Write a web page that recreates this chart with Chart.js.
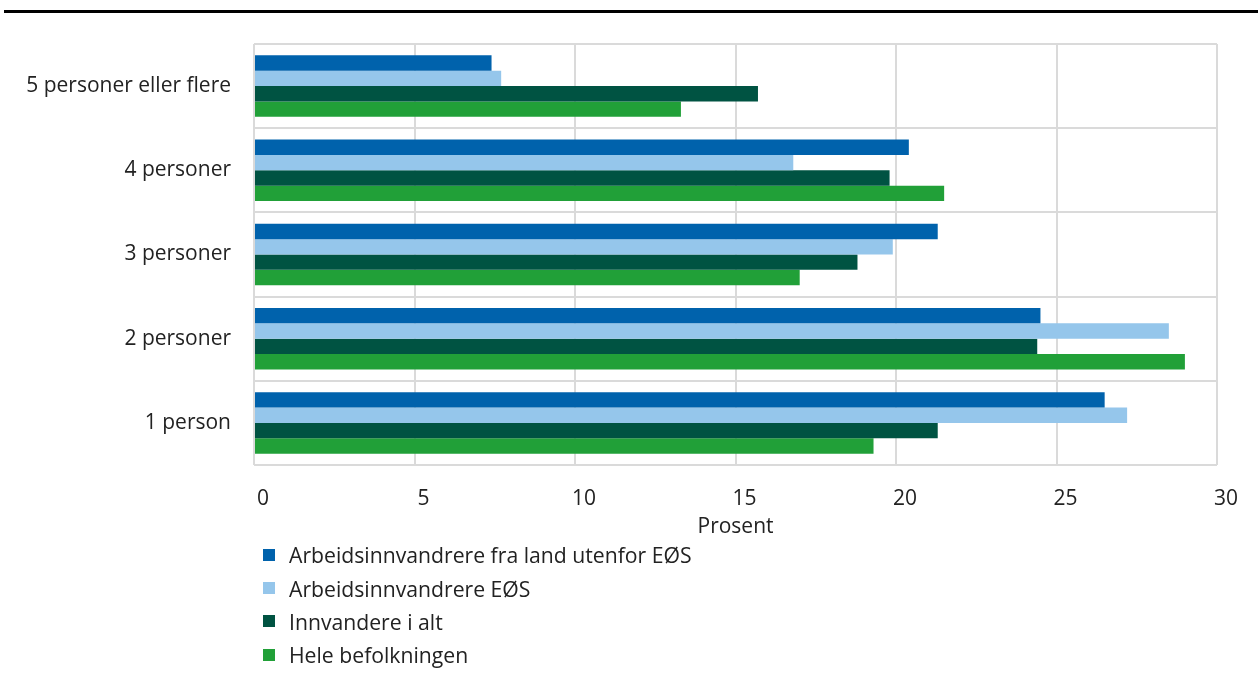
<!DOCTYPE html>
<html lang="no">
<head>
<meta charset="utf-8">
<title>Husholdningsstørrelse</title>
<script src="https://cdn.jsdelivr.net/npm/chart.js@4/dist/chart.umd.min.js"></script>
<style>
  html, body { margin: 0; padding: 0; background: #fff; }
  body { width: 1258px; height: 676px; position: relative; overflow: hidden;
         font-family: "Open Sans", "Noto Sans", sans-serif; color: #222; }
  .rule { position: absolute; left: 4px; right: 0; top: 10px; height: 3px; background: #000; }
  .chart-box { position: absolute; left: 0; top: 0; width: 1258px; height: 540px; }
  #legend { position: absolute; left: 263px; top: 538px; margin: 0; padding: 0; list-style: none; }
  #legend li { display: flex; align-items: center; height: 33.4px; font-size: 21.2px; }
  #legend .sw { width: 12px; height: 12px; margin-right: 14px; }
</style>
</head>
<body>
<div class="rule"></div>
<div class="chart-box"><canvas id="chart"></canvas></div>
<ul id="legend"></ul>

<script>
// ── Data ──
const categories = ['5 personer eller flere', '4 personer', '3 personer', '2 personer', '1 person'];
const seriesNames = [
    'Arbeidsinnvandrere fra land utenfor EØS',
    'Arbeidsinnvandrere EØS',
    'Innvandere i alt',
    'Hele befolkningen'
];
const utenforEos = [7.4, 20.4, 21.3, 24.5, 26.5];
const eos        = [7.7, 16.8, 19.9, 28.5, 27.2];
const innvAlt    = [15.7, 19.8, 18.8, 24.4, 21.3];
const heleBef    = [13.3, 21.5, 17.0, 29.0, 19.3];
const xTicks = [0, 5, 10, 15, 20, 25, 30];

const colors = ['#0062ac', '#95c6eb', '#005342', '#21a038'];
const FONT = { family: '"Open Sans", "Noto Sans", sans-serif', size: 21 };
const GRID = '#dadada';

function initChart() {
    const ctx = document.getElementById('chart').getContext('2d');
    const values = [utenforEos, eos, innvAlt, heleBef];

    return new Chart(ctx, {
        type: 'bar',
        data: {
            labels: categories,
            datasets: values.map((v, i) => ({
                label: seriesNames[i],
                data: v,
                backgroundColor: colors[i],
                borderWidth: 0,
                categoryPercentage: 0.73,
                barPercentage: 1.0
            }))
        },
        options: {
            indexAxis: 'y',
            responsive: true,
            maintainAspectRatio: false,
            animation: false,
            layout: { padding: { top: 44, right: 41, left: 0, bottom: 0 } },
            plugins: { legend: { display: false }, tooltip: { enabled: false } },
            scales: {
                x: {
                    min: 0, max: 30,
                    afterBuildTicks: s => { s.ticks = xTicks.map(v => ({ value: v })); },
                    afterFit: s => { s.height = 75; s.paddingLeft = 0; s.paddingRight = 0; },
                    grid: { color: GRID, lineWidth: 2, drawTicks: false },
                    border: { display: false },
                    ticks: { color: '#222', font: FONT, padding: 21, labelOffset: 9 },
                    title: { display: true, text: 'Prosent', color: '#222', font: FONT, padding: 0 }
                },
                y: {
                    afterFit: s => { s.width = 254; s.paddingTop = 0; s.paddingBottom = 0; },
                    grid: { color: GRID, lineWidth: 2, drawTicks: false },
                    border: { display: false },
                    ticks: { color: '#222', font: FONT, padding: 23 }
                }
            }
        }
    });
}

// ── Legend (one column, built from the chart's datasets) ──
function buildLegend(chart) {
    const ul = document.getElementById('legend');
    chart.data.datasets.forEach(ds => {
        const li = document.createElement('li');
        const sw = document.createElement('span');
        sw.className = 'sw';
        sw.style.background = ds.backgroundColor;
        li.appendChild(sw);
        li.appendChild(document.createTextNode(ds.label));
        ul.appendChild(li);
    });
}

const chart = initChart();
buildLegend(chart);
</script>
</body>
</html>
